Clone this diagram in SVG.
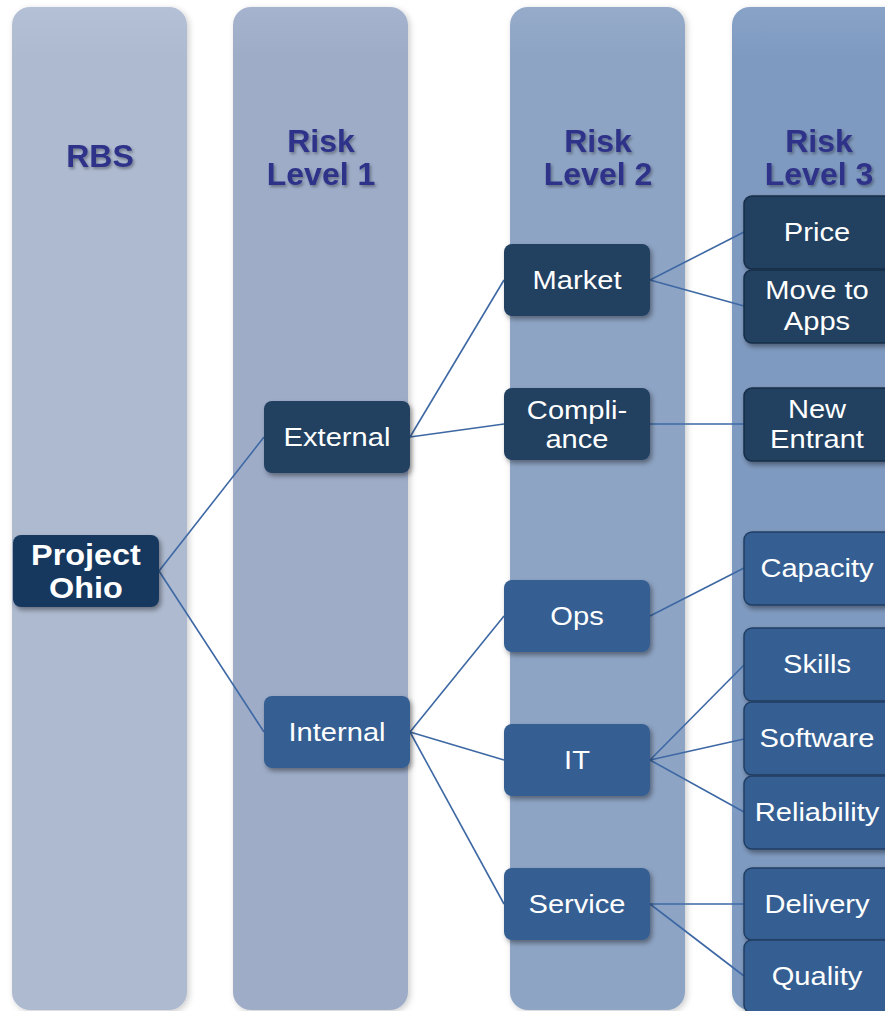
<svg xmlns="http://www.w3.org/2000/svg" width="885" height="1011" viewBox="0 0 885 1011">
<defs>
<filter id="sh" x="-20%" y="-20%" width="150%" height="150%">
<feDropShadow dx="2" dy="3" stdDeviation="2.5" flood-color="#000" flood-opacity="0.4"/>
</filter>
<filter id="csh" x="-10%" y="-5%" width="125%" height="110%">
<feDropShadow dx="2" dy="2" stdDeviation="3" flood-color="#000" flood-opacity="0.2"/>
</filter>
<filter id="tsh" x="-20%" y="-20%" width="150%" height="150%">
<feDropShadow dx="1.5" dy="2" stdDeviation="1.5" flood-color="#000" flood-opacity="0.35"/>
</filter>
<linearGradient id="g1" x1="0" y1="0" x2="0" y2="1"><stop offset="0" stop-color="#b4c0d6"/><stop offset="0.05" stop-color="#aebad0"/><stop offset="1" stop-color="#aebad0"/></linearGradient>
<linearGradient id="g2" x1="0" y1="0" x2="0" y2="1"><stop offset="0" stop-color="#a5b3ce"/><stop offset="0.05" stop-color="#9eacc8"/><stop offset="1" stop-color="#9eacc8"/></linearGradient>
<linearGradient id="g3" x1="0" y1="0" x2="0" y2="1"><stop offset="0" stop-color="#96abca"/><stop offset="0.05" stop-color="#8ea4c4"/><stop offset="1" stop-color="#8ea4c4"/></linearGradient>
<linearGradient id="g4" x1="0" y1="0" x2="0" y2="1"><stop offset="0" stop-color="#88a2c8"/><stop offset="0.05" stop-color="#7f9ac0"/><stop offset="1" stop-color="#7f9ac0"/></linearGradient>
</defs>
<style>
.head{font-family:"Liberation Sans",Arial,sans-serif;font-weight:bold;font-size:32px;fill:#2e3288;text-anchor:middle;filter:url(#tsh)}
.nt{font-family:"Liberation Sans",Arial,sans-serif;font-size:26px;fill:#ffffff;text-anchor:middle}
.bt{font-family:"Liberation Sans",Arial,sans-serif;font-size:30px;font-weight:bold;fill:#ffffff;text-anchor:middle}
.dark{fill:#233f61;filter:url(#sh)}
.med{fill:#355f92;filter:url(#sh)}
.dark3{fill:#233f61;stroke:#172d48;stroke-width:1.5;filter:url(#sh)}
.med3{fill:#355f92;stroke:#203e63;stroke-width:1.5;filter:url(#sh)}
.ln{stroke:#3d68a4;stroke-width:1.6;fill:none}
</style>
<rect width="885" height="1011" fill="#ffffff"/>
<g id="columns">
<rect x="12" y="7" width="175" height="1003" rx="18" fill="url(#g1)" filter="url(#csh)"/>
<rect x="233" y="7" width="175" height="1003" rx="18" fill="url(#g2)" filter="url(#csh)"/>
<rect x="510" y="7" width="175" height="1003" rx="18" fill="url(#g3)" filter="url(#csh)"/>
<rect x="732" y="7" width="175" height="1003" rx="18" fill="url(#g4)" filter="url(#csh)"/>
<text class="head" x="100" y="167">RBS</text>
<text class="head" x="321" y="152">Risk</text>
<text class="head" x="321" y="185">Level 1</text>
<text class="head" x="598" y="152">Risk</text>
<text class="head" x="598" y="185">Level 2</text>
<text class="head" x="819" y="152">Risk</text>
<text class="head" x="819" y="185">Level 3</text>
</g>
<g id="connectors">
<line class="ln" x1="159" y1="571" x2="264" y2="437"/>
<line class="ln" x1="159" y1="571" x2="264" y2="732"/>
<line class="ln" x1="410" y1="437" x2="504" y2="280"/>
<line class="ln" x1="410" y1="437" x2="504" y2="424"/>
<line class="ln" x1="410" y1="732" x2="504" y2="616"/>
<line class="ln" x1="410" y1="732" x2="504" y2="760"/>
<line class="ln" x1="410" y1="732" x2="504" y2="904"/>
<line class="ln" x1="650" y1="280" x2="744" y2="232"/>
<line class="ln" x1="650" y1="280" x2="744" y2="306"/>
<line class="ln" x1="650" y1="424" x2="744" y2="424" stroke-width="2.5"/>
<line class="ln" x1="650" y1="616" x2="744" y2="568"/>
<line class="ln" x1="650" y1="760" x2="744" y2="665"/>
<line class="ln" x1="650" y1="760" x2="744" y2="739"/>
<line class="ln" x1="650" y1="760" x2="744" y2="812"/>
<line class="ln" x1="650" y1="904" x2="744" y2="904" stroke-width="2.5"/>
<line class="ln" x1="650" y1="904" x2="744" y2="976"/>
</g>
<g id="n-project-ohio">
<rect x="13" y="535" width="146" height="72" rx="8" fill="#17375e" filter="url(#sh)"/>
<text class="bt" transform="translate(86 565) scale(1.08 1)">Project</text>
<text class="bt" transform="translate(86 598) scale(1.08 1)">Ohio</text>
</g>
<g id="n-external">
<rect class="dark" x="264" y="401" width="146" height="72" rx="8"/>
<text class="nt" transform="translate(337 446) scale(1.12 1)">External</text>
</g>
<g id="n-internal">
<rect class="med" x="264" y="696" width="146" height="72" rx="8"/>
<text class="nt" transform="translate(337 741) scale(1.12 1)">Internal</text>
</g>
<g id="n-market">
<rect class="dark" x="504" y="244" width="146" height="72" rx="8"/>
<text class="nt" transform="translate(577 289) scale(1.12 1)">Market</text>
</g>
<g id="n-compliance">
<rect class="dark" x="504" y="388" width="146" height="72" rx="8"/>
<text class="nt" transform="translate(577 419) scale(1.12 1)">Compli-</text>
<text class="nt" transform="translate(577 448) scale(1.12 1)">ance</text>
</g>
<g id="n-ops">
<rect class="med" x="504" y="580" width="146" height="72" rx="8"/>
<text class="nt" transform="translate(577 625) scale(1.12 1)">Ops</text>
</g>
<g id="n-it">
<rect class="med" x="504" y="724" width="146" height="72" rx="8"/>
<text class="nt" transform="translate(577 769) scale(1.12 1)">IT</text>
</g>
<g id="n-service">
<rect class="med" x="504" y="868" width="146" height="72" rx="8"/>
<text class="nt" transform="translate(577 913) scale(1.12 1)">Service</text>
</g>
<g id="n-price">
<rect class="dark3" x="744" y="196" width="160" height="73" rx="8"/>
<text class="nt" transform="translate(817 241) scale(1.12 1)">Price</text>
</g>
<g id="n-move-to-apps">
<rect class="dark3" x="744" y="270" width="160" height="73" rx="8"/>
<text class="nt" transform="translate(817 299) scale(1.12 1)">Move to</text>
<text class="nt" transform="translate(817 330) scale(1.12 1)">Apps</text>
</g>
<g id="n-new-entrant">
<rect class="dark3" x="744" y="388" width="160" height="73" rx="8"/>
<text class="nt" transform="translate(817 418) scale(1.12 1)">New</text>
<text class="nt" transform="translate(817 448) scale(1.12 1)">Entrant</text>
</g>
<g id="n-capacity">
<rect class="med3" x="744" y="532" width="160" height="73" rx="8"/>
<text class="nt" transform="translate(817 577) scale(1.12 1)">Capacity</text>
</g>
<g id="n-skills">
<rect class="med3" x="744" y="628" width="160" height="73" rx="8"/>
<text class="nt" transform="translate(817 673) scale(1.12 1)">Skills</text>
</g>
<g id="n-software">
<rect class="med3" x="744" y="702" width="160" height="73" rx="8"/>
<text class="nt" transform="translate(817 747) scale(1.12 1)">Software</text>
</g>
<g id="n-reliability">
<rect class="med3" x="744" y="776" width="160" height="73" rx="8"/>
<text class="nt" transform="translate(817 821) scale(1.12 1)">Reliability</text>
</g>
<g id="n-delivery">
<rect class="med3" x="744" y="868" width="160" height="72" rx="8"/>
<text class="nt" transform="translate(817 913) scale(1.12 1)">Delivery</text>
</g>
<g id="n-quality">
<rect class="med3" x="744" y="940" width="160" height="73" rx="8"/>
<text class="nt" transform="translate(817 985) scale(1.12 1)">Quality</text>
</g>
</svg>
